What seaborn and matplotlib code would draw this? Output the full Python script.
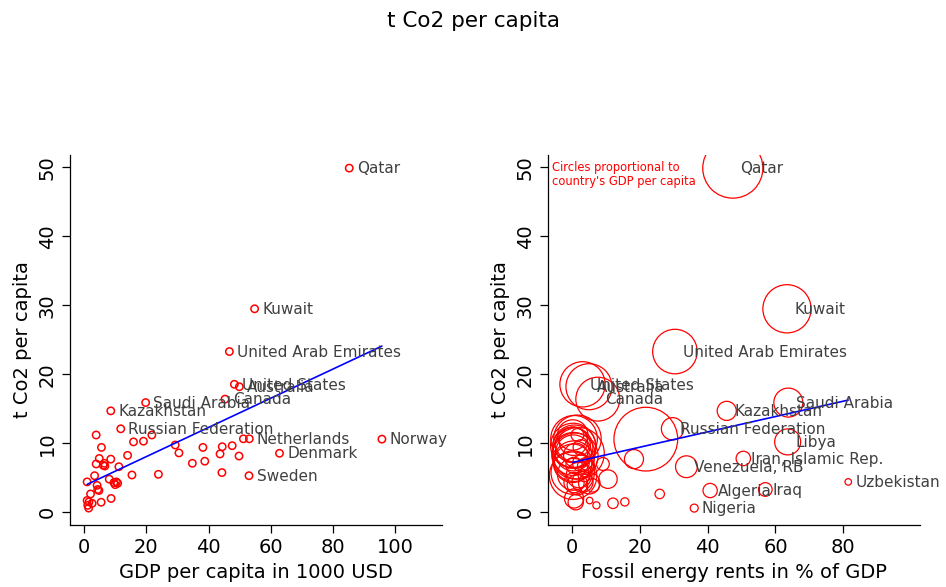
import numpy as np
import pandas as pd
import matplotlib
matplotlib.use("Agg")
import matplotlib.pyplot as plt
import seaborn as sns

# values: GDP per capita (1000 USD), t CO2 per capita, fossil rents (% of GDP)
country = ["Qatar", "Kuwait", "United Arab Emirates", "United States", "Australia",
           "Canada", "Saudi Arabia", "Kazakhstan", "Russian Federation", "Netherlands",
           "Norway", "Denmark", "Sweden", "Libya", "Iran, Islamic Rep.", "Venezuela, RB",
           "Uzbekistan", "Algeria", "Iraq", "Nigeria",
           "c21", "c22", "c23", "c24", "c25", "c26", "c27", "c28", "c29", "c30",
           "c31", "c32", "c33", "c34", "c35", "c36", "c37", "c38", "c39", "c40",
           "c41", "c42", "c43", "c44", "c45", "c46", "c47", "c48", "c49", "c50",
           "c51", "c52", "c53", "c54", "c55", "c56", "c57"]
gdp = [85.2, 54.8, 46.7, 48.3, 49.9, 45.3, 19.8, 8.6, 11.8, 53.1,
       95.7, 62.8, 53.0, 15.9, 4.9, 11.2, 1.0, 4.8, 4.4, 1.5,
       51.2, 29.3, 30.5, 38.2, 44.4, 47.6, 34.8, 38.8, 43.7, 49.8,
       44.3, 23.9, 15.4, 19.1, 21.8, 5.6, 14.0, 3.9, 3.9, 6.2,
       6.5, 6.7, 8.6, 8.1, 9.6, 10.0, 10.4, 10.8, 3.4, 4.2,
       2.1, 1.2, 1.6, 2.6, 1.0, 5.5, 8.7]
co2 = [49.9, 29.5, 23.3, 18.55, 18.2, 16.4, 15.9, 14.7, 12.1, 10.65,
       10.6, 8.55, 5.3, 10.2, 7.8, 6.6, 4.4, 3.15, 3.3, 0.6,
       10.65, 9.75, 8.6, 9.4, 9.5, 9.65, 7.1, 7.4, 8.45, 8.15,
       5.75, 5.5, 5.4, 10.3, 11.2, 9.4, 8.25, 11.2, 7.0, 6.8,
       7.1, 6.7, 7.7, 4.8, 4.3, 4.0, 4.4, 4.2, 5.3, 3.9,
       2.65, 1.0, 1.5, 1.3, 1.7, 1.45, 2.0]
rents = [47.4, 63.4, 30.3, 3.0, 4.9, 7.5, 63.8, 45.6, 29.6, 1.5,
         21.7, 1.8, 0.2, 63.6, 50.5, 33.7, 81.5, 40.7, 57.0, 36.0,
         0.5, 0.1, 0.3, 0.1, 0.6, 0.2, 0.1, 0.4, 0.3, 0.8,
         0.1, 0.3, 2.0, 0.3, 0.1, 2.5, 1.0, 1.5, 9.0, 0.5,
         2.5, 4.0, 18.2, 10.5, 0.5, 1.5, 3.0, 5.0, 3.5, 6.0,
         25.8, 7.1, 15.5, 12.0, 5.1, 1.0, 0.5]

left_labels = ["Qatar", "Kuwait", "United Arab Emirates", "United States", "Australia",
               "Canada", "Saudi Arabia", "Kazakhstan", "Russian Federation", "Netherlands",
               "Norway", "Denmark", "Sweden"]
right_labels = ["Qatar", "Kuwait", "United Arab Emirates", "United States", "Australia",
                "Canada", "Saudi Arabia", "Kazakhstan", "Russian Federation", "Libya",
                "Iran, Islamic Rep.", "Venezuela, RB", "Uzbekistan", "Algeria", "Iraq", "Nigeria"]

df = pd.DataFrame({"country": country, "gdp": gdp, "co2": co2, "rents": rents})

sns.set_style("ticks")
plt.rcParams["font.family"] = ["DejaVu Sans"]
plt.rcParams["text.color"] = "black"
plt.rcParams["axes.labelcolor"] = "black"
plt.rcParams["xtick.color"] = "black"
plt.rcParams["ytick.color"] = "black"
plt.rcParams["axes.edgecolor"] = "black"

fig = plt.figure(figsize=(9.46, 5.87), dpi=100)
ax1 = fig.add_axes([70 / 946, 62 / 587, 372 / 946, 370 / 587])
ax2 = fig.add_axes([548 / 946, 62 / 587, 372 / 946, 370 / 587])

label_col = "#404040"

# left: CO2 vs GDP
sns.scatterplot(data=df, x="gdp", y="co2", ax=ax1, s=28, marker="o",
                facecolor="none", edgecolor="red", linewidth=1.1, legend=False)
sns.regplot(data=df, x="gdp", y="co2", ax=ax1, scatter=False, ci=None,
            truncate=True, line_kws={"color": "blue", "lw": 1.2})
for _, row in df[df["country"].isin(left_labels)].iterrows():
    ax1.annotate(row["country"], (row["gdp"], row["co2"]), xytext=(5.5, -0.5),
                 textcoords="offset points", va="center", ha="left",
                 fontsize=11, color=label_col)
ax1.set_xlim(-4.5, 115)
ax1.set_xticks([0, 20, 40, 60, 80, 100])
ax1.set_xlabel("GDP per capita in 1000 USD", fontsize=14)

# right: CO2 vs fossil rents, circle area proportional to GDP
sns.scatterplot(data=df, x="rents", y="co2", ax=ax2, size="gdp",
                sizes=(0, 2200), size_norm=(0, 100), marker="o",
                facecolor="none", edgecolor="red", linewidth=0.9, legend=False)
sns.regplot(data=df, x="rents", y="co2", ax=ax2, scatter=False, ci=None,
            truncate=True, line_kws={"color": "blue", "lw": 1.2})
for _, row in df[df["country"].isin(right_labels)].iterrows():
    ax2.annotate(row["country"], (row["rents"], row["co2"]), xytext=(5.5, -0.5),
                 textcoords="offset points", va="center", ha="left",
                 fontsize=11, color=label_col)
ax2.set_xlim(-7.2, 102.7)
ax2.set_xticks([0, 20, 40, 60, 80])
ax2.set_xlabel("Fossil energy rents in % of GDP", fontsize=14)
ax2.text(0.012, 0.985, "Circles proportional to\ncountry's GDP per capita",
         transform=ax2.transAxes, ha="left", va="top", fontsize=8.3,
         color="red", linespacing=1.1)

for ax in (ax1, ax2):
    ax.set_ylim(-1.85, 51.8)
    ax.set_yticks([0, 10, 20, 30, 40, 50])
    ax.set_ylabel("t Co2 per capita", fontsize=14)
    ax.tick_params(axis="both", labelsize=14, length=6, width=0.9, direction="out")
    for lab in ax.get_yticklabels():
        lab.set_rotation(90)
        lab.set_va("center")
    for side in ("top", "right"):
        ax.spines[side].set_visible(False)
    for side in ("left", "bottom"):
        ax.spines[side].set_linewidth(0.9)

fig.suptitle("t Co2 per capita", fontsize=15.5, y=0.982)

fig.savefig("out.png", dpi=100)
